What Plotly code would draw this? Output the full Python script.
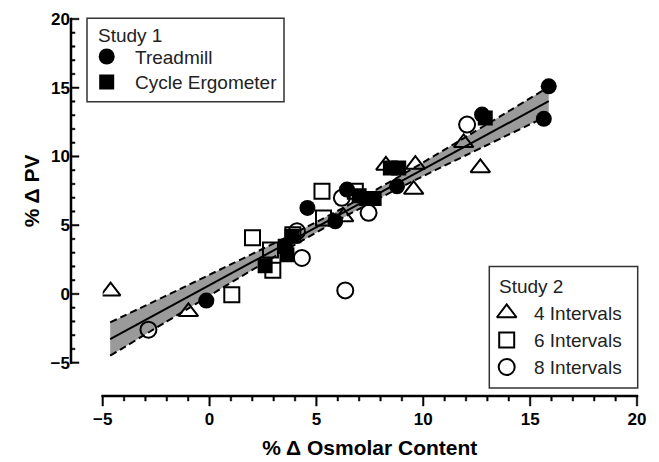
import plotly.graph_objects as go

# ---- data ----
treadmill_x = [-0.15, 4.58, 5.88, 6.43, 8.77, 12.75, 15.64, 15.87]
treadmill_y = [-0.48, 6.26, 5.28, 7.59, 7.83, 13.05, 12.74, 15.10]

cycle_x = [2.60, 3.54, 3.62, 3.85, 7.00, 7.35, 7.70, 8.46, 8.85, 12.90]
cycle_y = [2.06, 3.47, 2.86, 4.19, 7.15, 6.95, 6.95, 9.17, 9.17, 12.80]

int4_x = [-4.63, -0.99, 6.27, 8.25, 9.63, 9.55, 11.89, 12.67]
int4_y = [0.20, -1.30, 5.60, 9.35, 9.41, 7.59, 10.99, 9.17]

int6_x = [1.04, 2.01, 2.85, 2.96, 3.90, 5.26, 5.33, 6.82]
int6_y = [-0.05, 4.08, 3.20, 1.72, 4.30, 7.47, 5.53, 7.47]

int8_x = [-2.86, 4.09, 4.32, 6.35, 6.19, 7.44, 12.05]
int8_y = [-2.60, 4.56, 2.62, 0.26, 6.99, 5.90, 12.32]

fit_x = [-4.65, 15.87]
fit_y = [-3.28, 14.02]

band_x = [-4.65, -2.0, 0.0, 2.0, 4.0, 6.5, 9.0, 12.0, 15.87]
band_upper = [-2.07, -0.10, 1.40, 2.91, 4.44, 6.47, 8.66, 11.43, 15.05]
band_lower = [-4.49, -2.00, -0.12, 1.75, 3.58, 5.77, 7.80, 10.09, 12.99]

x_range = [-5, 20]
y_range = [-5, 20]
major_step = 5
minor_step = 1
x_title = "% Δ Osmolar Content"
y_title = "% Δ PV"

study1_title = "Study 1"
study1_labels = ["Treadmill", "Cycle Ergometer"]
study2_title = "Study 2"
study2_labels = ["4 Intervals", "6 Intervals", "8 Intervals"]

FONT = "Liberation Sans, Arial, Helvetica, sans-serif"
W, H = 659, 462
L, R, T, B = 71, 22, 19, 66
pw = W - L - R
ph = H - T - B

fig = go.Figure()

# confidence band and fit
fig.add_trace(go.Scatter(x=band_x, y=band_upper, mode="lines", line=dict(width=0, shape="spline"),
                         showlegend=False, hoverinfo="skip"))
fig.add_trace(go.Scatter(x=band_x, y=band_lower, mode="lines", line=dict(width=0, shape="spline"),
                         fill="tonexty", fillcolor="#9a9a9a", showlegend=False, hoverinfo="skip"))
fig.add_trace(go.Scatter(x=band_x, y=band_upper, mode="lines",
                         line=dict(color="black", width=2, dash="7px,4px", shape="spline"),
                         showlegend=False))
fig.add_trace(go.Scatter(x=band_x, y=band_lower, mode="lines",
                         line=dict(color="black", width=2, dash="7px,4px", shape="spline"),
                         showlegend=False))
fig.add_trace(go.Scatter(x=fit_x, y=fit_y, mode="lines", line=dict(color="black", width=2),
                         showlegend=False))

MS = 16
open_line = dict(color="black", width=2)
sym = {
    "4": dict(symbol="triangle-up-open", size=MS + 1, color="black", line=open_line),
    "6": dict(symbol="square-open", size=MS - 1, color="black", line=open_line),
    "8": dict(symbol="circle-open", size=MS, color="black", line=open_line),
    "T": dict(symbol="circle", size=MS, color="black", line=dict(width=0)),
    "C": dict(symbol="square", size=MS - 1, color="black", line=dict(width=0)),
}
fig.add_trace(go.Scatter(x=int4_x, y=int4_y, mode="markers", name=study2_labels[0], marker=sym["4"], showlegend=False))
fig.add_trace(go.Scatter(x=int6_x, y=int6_y, mode="markers", name=study2_labels[1], marker=sym["6"], showlegend=False))
fig.add_trace(go.Scatter(x=int8_x, y=int8_y, mode="markers", name=study2_labels[2], marker=sym["8"], showlegend=False))
fig.add_trace(go.Scatter(x=treadmill_x, y=treadmill_y, mode="markers", name=study1_labels[0], marker=sym["T"], showlegend=False))
fig.add_trace(go.Scatter(x=cycle_x, y=cycle_y, mode="markers", name=study1_labels[1], marker=sym["C"], showlegend=False))

# empty traces so that the offset display axes get their subplots
fig.add_trace(go.Scatter(x=[None], y=[None], xaxis="x2", yaxis="y2", mode="none", showlegend=False, hoverinfo="skip"))
fig.add_trace(go.Scatter(x=[None], y=[None], xaxis="x3", yaxis="y3", mode="none", showlegend=False, hoverinfo="skip"))

x0 = (102.7 - L) / pw
y0 = (396 - 362.7) / ph

tickfont = dict(family=FONT, size=17, color="black", weight="bold")
titlefont = dict(family=FONT, size=21, color="black", weight="bold")
hidden = dict(visible=False, showgrid=False, zeroline=False)

# ---- offset axis lines and tick marks as thin rectangles (paper coords, lower layer) ----
def xv_to_paper(v):
    return x0 + (v - x_range[0]) / (x_range[1] - x_range[0]) * (1 - x0)
def yv_to_paper(v):
    return y0 + (v - y_range[0]) / (y_range[1] - y_range[0]) * (1 - y0)

hx = 1.0 / pw
hy = 1.0 / ph
def bar(xa, xb, ya, yb):
    fig.add_shape(type="rect", xref="paper", yref="paper", layer="below",
                  x0=xa, x1=xb, y0=ya, y1=yb,
                  line=dict(color="black", width=0.5), fillcolor="black")

bar(xv_to_paper(x_range[0]) - hx, xv_to_paper(x_range[1]) + hx, -hy, hy)
bar(-hx, hx, yv_to_paper(y_range[0]) - hy, yv_to_paper(y_range[1]) + hy)
for v in range(x_range[0], x_range[1] + 1, minor_step):
    ln = 10 if v % major_step == 0 else 5
    p = xv_to_paper(v)
    bar(p - 0.75 * hx, p + 0.75 * hx, -ln * hy, 0)
for v in range(y_range[0], y_range[1] + 1, minor_step):
    ln = 8 if v % major_step == 0 else 4
    p = yv_to_paper(v)
    bar(0, ln * hx, p - 0.75 * hy, p + 0.75 * hy)

# ---- custom legends ----
legend_font = dict(family=FONT, size=19, color="#222")
def px_to_paper_x(v):
    return (v - L) / pw
def px_to_paper_y(v):
    return (H - B - v) / ph

boxes = [(87, 284, 18.3, 101.7), (489.3, 637.7, 266.5, 388)]
for bx0, bx1, by0, by1 in boxes:
    fig.add_shape(type="rect", xref="paper", yref="paper", layer="below",
                  x0=px_to_paper_x(bx0), x1=px_to_paper_x(bx1),
                  y0=px_to_paper_y(by1), y1=px_to_paper_y(by0),
                  line=dict(color="#333", width=1.5), fillcolor="white")

leg1_rows = [56.5, 82]
leg2_rows = [313, 340, 367]
fig.add_trace(go.Scatter(x=[106.7], y=[leg1_rows[0]], xaxis="x4", yaxis="y4", mode="markers",
                         marker=sym["T"], showlegend=False, hoverinfo="skip"))
fig.add_trace(go.Scatter(x=[106.7], y=[leg1_rows[1]], xaxis="x4", yaxis="y4", mode="markers",
                         marker=sym["C"], showlegend=False, hoverinfo="skip"))
for i, k in enumerate(["4", "6", "8"]):
    fig.add_trace(go.Scatter(x=[506.7], y=[leg2_rows[i]], xaxis="x4", yaxis="y4", mode="markers",
                             marker=sym[k], showlegend=False, hoverinfo="skip"))

def txt(x, y, s):
    fig.add_annotation(x=x, y=y, xref="x4", yref="y4", text=s, showarrow=False,
                       xanchor="left", yanchor="middle", font=legend_font)

txt(96, 35, study1_title)
for yy, s in zip(leg1_rows, study1_labels):
    txt(133, yy + 0.5, s)
txt(497, 286, study2_title)
for yy, s in zip(leg2_rows, study2_labels):
    txt(532, yy + 0.5, s)

fig.update_layout(
    width=W, height=H,
    margin=dict(l=L, r=R, t=T, b=B, autoexpand=False),
    paper_bgcolor="white", plot_bgcolor="rgba(0,0,0,0)",
    font=dict(family=FONT, color="#222"),
    xaxis=dict(**hidden, range=x_range, domain=[x0, 1], anchor="y"),
    yaxis=dict(**hidden, range=y_range, domain=[y0, 1], anchor="x"),
    xaxis2=dict(
        range=x_range, domain=[x0, 1], anchor="y2", side="bottom",
        showline=False, showgrid=False, zeroline=False, ticks="",
        dtick=major_step, tick0=0, ticklabelstandoff=11, tickfont=tickfont,
        title=dict(text=x_title, font=titlefont, standoff=12),
    ),
    yaxis2=dict(range=[0, 1], domain=[0, 0.01], anchor="x2", showgrid=False, zeroline=False,
                showticklabels=False, showline=False, ticks=""),
    yaxis3=dict(
        range=y_range, domain=[y0, 1], anchor="x3", side="left",
        showline=False, showgrid=False, zeroline=False, ticks="",
        dtick=major_step, tick0=0, tickfont=tickfont,
        title=dict(text=y_title, font=titlefont, standoff=5),
    ),
    xaxis3=dict(range=[0, 1], domain=[0, 0.01], anchor="y3", showgrid=False, zeroline=False,
                showticklabels=False, showline=False, ticks=""),
    xaxis4=dict(**hidden, range=[L, W - R], domain=[0, 1], anchor="y4"),
    yaxis4=dict(**hidden, range=[H - B, T], domain=[0, 1], anchor="x4"),
)

fig.write_html("out.html")
